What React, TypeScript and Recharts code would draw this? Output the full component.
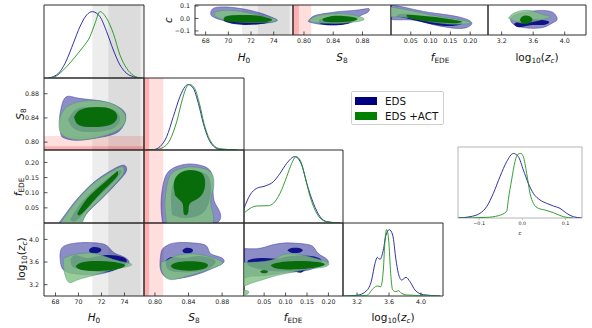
import React from 'react';
import { ScatterChart, Scatter, XAxis, YAxis, ReferenceArea } from 'recharts';

type XY = [number, number];

// ---------- axis ranges and ticks ----------
const h0Dom: [number, number] = [67, 75.7];
const s8Dom: [number, number] = [0.787, 0.906];
const fDomX: [number, number] = [0.003, 0.234];
const fDomY: [number, number] = [0, 0.241];
const zDomX: [number, number] = [3.025, 4.275];
const zDomY: [number, number] = [3.0, 4.29];
const pDom: [number, number] = [0, 1.1];
const cDomTop: [number, number] = [-0.133, 0.108];
const h0DomTop: [number, number] = [67.06, 75.7];
const s8DomTop: [number, number] = [0.785, 0.919];
const fDomTop: [number, number] = [0, 0.245];
const zDomTop: [number, number] = [3.027, 4.27];
const cDom1D: [number, number] = [-0.149, 0.138];

const h0Ticks = [68, 70, 72, 74];
const s8Ticks = [0.8, 0.84, 0.88];
const fTicks = [0.05, 0.1, 0.15, 0.2];
const zTicks = [3.2, 3.6, 4.0];
const cTicks = [-0.1, 0.0, 0.1];

// external priors (H0 and S8 bands), 2 sigma / 1 sigma
const h0Band2: XY = [71.2, 76.8];
const h0Band1: XY = [72.6, 75.4];
const s8Band2: XY = [0.742, 0.81];
const s8Band1: XY = [0.759, 0.793];

// ---------- 1D marginals ----------
const h0EDS: XY[] = [[67.4, 0], [67.81, 0.02], [68.39, 0.095], [68.97, 0.271], [69.55, 0.523], [70.13, 0.774], [70.71, 0.95], [71.2, 1.0], [71.87, 0.924], [72.45, 0.698], [73.03, 0.422], [73.61, 0.196], [74.19, 0.07], [74.77, 0.02], [75.4, 0]];
const h0ACT: XY[] = [[67.5, 0], [67.96, 0.02], [68.97, 0.171], [69.84, 0.346], [70.42, 0.472], [71.0, 0.623], [71.44, 0.824], [71.87, 1.0], [72.45, 0.899], [73.03, 0.673], [73.61, 0.346], [74.19, 0.146], [74.77, 0.04], [75.4, 0]];
const s8EDS: XY[] = [[0.79, 0], [0.7981, 0.005], [0.806, 0.051], [0.814, 0.204], [0.8219, 0.509], [0.8298, 0.815], [0.8358, 0.968], [0.8398, 1.0], [0.8457, 0.942], [0.8517, 0.713], [0.8576, 0.407], [0.8636, 0.178], [0.8695, 0.061], [0.8775, 0.01], [0.8974, 0]];
const s8ACT: XY[] = [[0.79, 0], [0.8, 0.004], [0.81, 0.041], [0.8179, 0.153], [0.8259, 0.433], [0.833, 0.789], [0.8378, 0.968], [0.841, 1.0], [0.8465, 0.957], [0.8529, 0.713], [0.8584, 0.407], [0.8636, 0.204], [0.8695, 0.076], [0.8775, 0.02], [0.8974, 0]];
const fEDS: XY[] = [[0.003, 0.221], [0.017, 0.422], [0.0326, 0.522], [0.0521, 0.557], [0.0715, 0.622], [0.0871, 0.748], [0.1027, 0.899], [0.1214, 1.0], [0.1377, 0.874], [0.1494, 0.598], [0.165, 0.296], [0.1805, 0.095], [0.1961, 0.02], [0.2272, 0]];
const fACT: XY[] = [[0.003, 0.146], [0.017, 0.221], [0.0326, 0.256], [0.0599, 0.261], [0.0715, 0.296], [0.0871, 0.447], [0.1027, 0.698], [0.1144, 0.899], [0.1245, 1.0], [0.1338, 0.95], [0.1455, 0.698], [0.1572, 0.397], [0.1727, 0.146], [0.1883, 0.035], [0.2039, 0.01], [0.2272, 0]];
const zEDS: XY[] = [[3.04, 0], [3.196, 0.01], [3.321, 0.08], [3.383, 0.241], [3.425, 0.492], [3.454, 0.582], [3.4875, 0.552], [3.529, 0.693], [3.5625, 0.919], [3.604, 1.0], [3.646, 0.919], [3.6875, 0.542], [3.717, 0.341], [3.758, 0.241], [3.8125, 0.281], [3.8625, 0.216], [3.925, 0.09], [4.029, 0.02], [4.24, 0]];
const zACT: XY[] = [[3.04, 0], [3.321, 0.01], [3.404, 0.115], [3.454, 0.151], [3.496, 0.141], [3.529, 0.392], [3.55, 0.843], [3.571, 1.0], [3.596, 0.843], [3.621, 0.341], [3.646, 0.09], [3.6875, 0.065], [3.717, 0.08], [3.758, 0.04], [3.821, 0.015], [4.24, 0]];
const cEDS: XY[] = [[-0.148, 0], [-0.1212, 0.02], [-0.0981, 0.072], [-0.0826, 0.176], [-0.0672, 0.382], [-0.0518, 0.641], [-0.0363, 0.873], [-0.0209, 1.0], [-0.0094, 0.951], [0.0022, 0.744], [0.0138, 0.537], [0.0254, 0.382], [0.0408, 0.279], [0.0563, 0.227], [0.0717, 0.186], [0.0871, 0.15], [0.1026, 0.072], [0.118, 0.02], [0.1373, 0]];
const cACT: XY[] = [[-0.148, 0], [-0.0826, 0.01], [-0.0557, 0.036], [-0.0363, 0.103], [-0.0325, 0.284], [-0.0248, 0.594], [-0.0171, 0.873], [-0.0094, 0.992], [-0.004, 1.0], [0.0022, 0.951], [0.01, 0.692], [0.0177, 0.382], [0.0254, 0.227], [0.037, 0.15], [0.0524, 0.124], [0.0717, 0.083], [0.0948, 0.02], [0.118, 0]];

// ---------- 2D contours (outer = 95%, inner = 68%) ----------
// S8 vs H0
const s8H0EdsOut: XY[] = [[68.36, 0.8426], [68.6, 0.8647], [69.03, 0.8757], [69.9, 0.873], [71.35, 0.8696], [72.8, 0.864], [73.82, 0.8537], [74.11, 0.84], [73.53, 0.818], [71.93, 0.808], [69.9, 0.803], [68.74, 0.807], [68.45, 0.815]];
const s8H0ActOut: XY[] = [[68.31, 0.8344], [68.74, 0.8537], [69.9, 0.866], [71.64, 0.8685], [73.09, 0.862], [74.05, 0.8454], [73.82, 0.826], [72.51, 0.8123], [70.48, 0.804], [69.03, 0.807], [68.39, 0.8178]];
const s8H0EdsIn: XY[] = [[69.09, 0.8371], [69.76, 0.8537], [71.06, 0.858], [72.8, 0.8553], [73.61, 0.841], [73.09, 0.8234], [71.35, 0.8167], [69.76, 0.8206]];
const s8H0ActIn: XY[] = [[69.61, 0.841], [70.19, 0.8537], [71.64, 0.858], [72.95, 0.8537], [73.38, 0.841], [72.8, 0.8289], [71.35, 0.825], [70.05, 0.8278]];
// fEDE vs H0
const fH0EdsOut: XY[] = [[68.1, -0.01], [69.03, 0.038], [69.9, 0.08], [71.35, 0.135], [72.8, 0.1726], [73.73, 0.19], [74.14, 0.186], [74.08, 0.165], [73.24, 0.128], [71.93, 0.0766], [70.63, 0.027], [69.9, -0.01]];
const fH0ActOut: XY[] = [[68.25, -0.01], [69.18, 0.04], [70.05, 0.082], [71.35, 0.132], [72.8, 0.168], [73.73, 0.186], [73.96, 0.179], [73.85, 0.159], [72.95, 0.12], [71.79, 0.0735], [70.63, 0.027], [70.05, -0.01]];
const fH0EdsIn: XY[] = [[69.26, 0.0103], [70.19, 0.0655], [71.64, 0.12], [72.95, 0.159], [73.61, 0.175], [73.61, 0.159], [72.66, 0.12], [71.35, 0.071], [70.19, 0.021], [69.61, 0.005]];
const fH0ActIn: XY[] = [[69.9, 0.0324], [70.77, 0.082], [72.08, 0.128], [73.24, 0.167], [73.44, 0.166], [73.24, 0.148], [71.93, 0.0985], [70.63, 0.0435], [70.05, 0.025]];
// fEDE vs S8
const fS8EdsOut: XY[] = [[0.8096, -0.01], [0.8072, 0.059], [0.8096, 0.125], [0.8156, 0.168], [0.8275, 0.188], [0.8418, 0.195], [0.8572, 0.188], [0.8668, 0.168], [0.8691, 0.125], [0.8703, 0.075], [0.8763, 0.042], [0.8763, 0.006], [0.8537, -0.01]];
const fS8ActOut: XY[] = [[0.8144, -0.01], [0.812, 0.059], [0.8144, 0.125], [0.8203, 0.165], [0.8322, 0.181], [0.8441, 0.185], [0.8596, 0.178], [0.8691, 0.155], [0.8691, 0.109], [0.8668, 0.059], [0.8656, -0.01]];
const fS8EdsIn: XY[] = [[0.8203, 0.026], [0.8191, 0.092], [0.8239, 0.142], [0.8358, 0.168], [0.8513, 0.171], [0.8632, 0.155], [0.8668, 0.109], [0.8632, 0.059], [0.8537, 0.026], [0.8358, 0.016]];
const fS8ActIn: XY[] = [[0.8239, 0.092], [0.8227, 0.135], [0.8298, 0.165], [0.8418, 0.175], [0.8537, 0.168], [0.8596, 0.142], [0.8572, 0.099], [0.8477, 0.075], [0.8406, 0.059], [0.8394, 0.032], [0.8346, 0.029], [0.8334, 0.059], [0.8298, 0.075]];
// log10(zc) vs H0
const zH0EdsOut: XY[] = [[68.39, 3.719], [68.51, 3.837], [69.03, 3.907], [70.19, 3.943], [71.64, 3.937], [72.51, 3.884], [73.09, 3.766], [73.96, 3.689], [74.4, 3.589], [73.82, 3.513], [72.8, 3.436], [71.35, 3.377], [69.61, 3.395], [68.6, 3.483]];
const zH0ActOut: XY[] = [[68.68, 3.66], [69.32, 3.719], [70.19, 3.748], [71.35, 3.754], [72.51, 3.683], [73.53, 3.619], [74.6, 3.566], [74.11, 3.513], [72.8, 3.454], [71.35, 3.366], [70.05, 3.295], [69.32, 3.236], [68.97, 3.295], [68.74, 3.454]];
const zH0EdsInA: XY[] = [[70.92, 3.813], [71.21, 3.86], [71.79, 3.854], [71.99, 3.807], [71.64, 3.76], [71.06, 3.766]];
const zH0EdsInB: XY[] = [[69.32, 3.648], [69.76, 3.725], [70.77, 3.672], [72.22, 3.719], [73.82, 3.689], [74.19, 3.601], [73.67, 3.513], [72.51, 3.424], [71.35, 3.436], [69.9, 3.483], [69.38, 3.554]];
const zH0ActIn: XY[] = [[69.76, 3.53], [70.34, 3.595], [71.64, 3.619], [73.09, 3.601], [74.05, 3.542], [73.24, 3.471], [71.64, 3.442], [70.19, 3.466]];
// log10(zc) vs S8
const zS8EdsOut: XY[] = [[0.8068, 3.719], [0.8088, 3.825], [0.8148, 3.895], [0.8267, 3.943], [0.8505, 3.931], [0.8624, 3.866], [0.8664, 3.748], [0.8783, 3.683], [0.8822, 3.601], [0.8743, 3.53], [0.8584, 3.424], [0.8386, 3.336], [0.8187, 3.307], [0.8088, 3.395], [0.806, 3.542]];
const zS8ActOut: XY[] = [[0.8076, 3.601], [0.8156, 3.642], [0.8267, 3.719], [0.8426, 3.748], [0.8584, 3.719], [0.8743, 3.648], [0.8803, 3.572], [0.8703, 3.501], [0.8545, 3.424], [0.8346, 3.336], [0.8187, 3.289], [0.8108, 3.366], [0.8076, 3.483]];
const zS8EdsInA: XY[] = [[0.8326, 3.801], [0.8366, 3.848], [0.8426, 3.842], [0.8453, 3.801], [0.8417, 3.76], [0.8354, 3.76]];
const zS8EdsInB: XY[] = [[0.8128, 3.63], [0.8207, 3.689], [0.8346, 3.672], [0.8505, 3.707], [0.8664, 3.672], [0.8723, 3.601], [0.8644, 3.495], [0.8465, 3.424], [0.8267, 3.424], [0.8148, 3.483]];
const zS8ActIn: XY[] = [[0.8187, 3.53], [0.8247, 3.589], [0.8406, 3.613], [0.8564, 3.595], [0.8632, 3.542], [0.8564, 3.471], [0.8406, 3.448], [0.8247, 3.471]];
// log10(zc) vs fEDE
const zFEdsOut: XY[] = [[-0.01, 3.848], [0.0342, 3.837], [0.0653, 3.895], [0.0965, 3.937], [0.1276, 3.931], [0.1588, 3.895], [0.1704, 3.807], [0.1821, 3.719], [0.1977, 3.642], [0.1961, 3.554], [0.1743, 3.513], [0.151, 3.454], [0.112, 3.424], [0.0809, 3.395], [0.0419, 3.354], [0.0108, 3.336], [-0.01, 3.336]];
const zFActOut: XY[] = [[-0.01, 3.589], [0.0342, 3.601], [0.0731, 3.648], [0.0965, 3.737], [0.1354, 3.731], [0.1666, 3.672], [0.1993, 3.589], [0.19, 3.513], [0.1588, 3.483], [0.1276, 3.436], [0.0809, 3.366], [0.0419, 3.277], [0.0147, 3.212], [-0.01, 3.19]];
const zFActOutB: XY[] = [[-0.01, 3.1], [0.009, 3.095], [0.012, 3.04], [-0.01, 2.98]];
const zFEdsInA: XY[] = [[0.1042, 3.807], [0.1136, 3.848], [0.1315, 3.848], [0.1401, 3.807], [0.1315, 3.766], [0.1136, 3.766]];
const zFEdsInB: XY[] = [[0.0124, 3.63], [0.0419, 3.672], [0.0809, 3.66], [0.112, 3.707], [0.1588, 3.707], [0.1821, 3.648], [0.1805, 3.572], [0.151, 3.483], [0.1354, 3.413], [0.112, 3.436], [0.0731, 3.436], [0.0342, 3.483], [0.0124, 3.542]];
const zFActIn: XY[] = [[0.0653, 3.542], [0.0809, 3.589], [0.1276, 3.619], [0.1743, 3.601], [0.1915, 3.56], [0.1743, 3.507], [0.1276, 3.471], [0.0809, 3.483]];
const zFActInB: XY[] = [[0.0404, 3.43], [0.0497, 3.46], [0.0591, 3.43], [0.0497, 3.401]];
// c vs H0
const cH0EdsOut: XY[] = [[68.44, 0.043], [68.74, 0.0837], [69.91, 0.0918], [71.37, 0.0755], [72.84, 0.043], [74.02, 0.0023], [74.31, -0.0166], [73.72, -0.0329], [72.25, -0.0437], [70.49, -0.0329], [69.32, -0.0112], [68.59, 0.0159]];
const cH0ActOut: XY[] = [[68.79, 0.0484], [69.61, 0.0647], [71.08, 0.0565], [72.55, 0.0295], [73.87, 0.0023], [74.25, -0.0112], [73.87, -0.0275], [72.25, -0.0329], [70.49, -0.0248], [69.47, -0.0058], [68.88, 0.0159]];
const cH0EdsIn: XY[] = [[69.61, 0.0159], [70.79, 0.0295], [72.84, 0.0105], [73.72, -0.0112], [73.28, -0.0383], [71.37, -0.0519], [69.91, -0.0329], [69.56, -0.0112]];
const cH0ActIn: XY[] = [[69.61, 0.0023], [70.2, 0.024], [71.96, 0.0267], [73.28, 0.0105], [73.87, -0.0112], [73.14, -0.0302], [71.37, -0.0329], [69.91, -0.0248]];
// c vs S8
const cS8EdsOut: XY[] = [[0.8068, -0.0166], [0.8141, 0.0213], [0.8323, 0.043], [0.8505, 0.0565], [0.8687, 0.0647], [0.8823, 0.0755], [0.8891, 0.078], [0.8869, 0.0484], [0.8755, 0.0159], [0.8641, -0.0329], [0.8414, -0.0519], [0.8187, -0.0437], [0.8068, -0.0275]];
const cS8ActOut: XY[] = [[0.8068, -0.0112], [0.8187, 0.0213], [0.8368, 0.0376], [0.8596, 0.0349], [0.8755, 0.0159], [0.8823, -0.0058], [0.8732, -0.0248], [0.8505, -0.0383], [0.8277, -0.0383], [0.8114, -0.0302]];
const cS8EdsIn: XY[] = [[0.8209, -0.0112], [0.8323, 0.0105], [0.8505, 0.0159], [0.8641, -0.0058], [0.8618, -0.0383], [0.8414, -0.0546], [0.8232, -0.0437]];
const cS8ActIn: XY[] = [[0.8255, -0.0031], [0.8414, 0.0213], [0.8618, 0.0159], [0.8732, -0.0031], [0.8641, -0.0248], [0.8414, -0.0302], [0.8277, -0.0248]];
// c vs fEDE
const cFEdsOut: XY[] = [[-0.01, 0.112], [0.0312, 0.0918], [0.0819, 0.0565], [0.141, 0.0295], [0.183, 0.0023], [0.2042, -0.0383], [0.183, -0.0789], [0.141, -0.0708], [0.0987, -0.0437], [0.048, -0.0112], [-0.01, 0.0]];
const cFActOut: XY[] = [[-0.01, 0.0972], [0.048, 0.0647], [0.0987, 0.0295], [0.1494, 0.0023], [0.1958, -0.0248], [0.1916, -0.0437], [0.141, -0.0437], [0.0819, -0.0166], [0.0312, 0.0105], [-0.01, 0.0213]];
const cFEdsIn: XY[] = [[0.0144, 0.0159], [0.0312, 0.0376], [0.0987, 0.0105], [0.1662, -0.0248], [0.1789, -0.0437], [0.1494, -0.06], [0.0987, -0.0437], [0.048, -0.0058]];
const cFActIn: XY[] = [[0.0397, 0.0295], [0.0987, 0.0159], [0.1494, -0.0058], [0.1789, -0.0248], [0.1578, -0.0383], [0.0987, -0.0248], [0.048, 0.0023]];
// c vs log10(zc)
const cZEdsOut: XY[] = [[3.313, -0.0112], [3.334, 0.0159], [3.439, 0.043], [3.566, 0.0565], [3.692, 0.0647], [3.819, 0.0565], [3.882, 0.0295], [3.903, -0.0112], [3.84, -0.0383], [3.734, -0.0708], [3.566, -0.0789], [3.418, -0.0654], [3.334, -0.0383]];
const cZActOut: XY[] = [[3.287, 0.0023], [3.355, 0.043], [3.482, 0.0647], [3.608, 0.0565], [3.734, 0.0295], [3.819, 0.0159], [3.734, -0.0058], [3.608, -0.0248], [3.482, -0.0383], [3.376, -0.0248]];
const cZEdsIn: XY[] = [[3.355, -0.0437], [3.482, -0.0058], [3.65, -0.0058], [3.798, -0.0248], [3.734, -0.0519], [3.566, -0.0546], [3.418, -0.0708]];
const cZActIn: XY[] = [[3.431, -0.0112], [3.46, 0.0159], [3.515, 0.024], [3.574, 0.0105], [3.587, -0.0166], [3.524, -0.0437], [3.46, -0.0383]];

// ---------- styling ----------
const FONT = "'DejaVu Sans', sans-serif";
const NAVY = '#000080';
const GREEN = '#008000';

interface Fill { pts: XY[]; color: string; op: number; edge?: string }
interface Curve { pts: XY[]; color: string }
interface Band { axis: 'x' | 'y'; r: XY; color: string; op: number }

const edsOut = (pts: XY[]): Fill => ({ pts, color: NAVY, op: 0.45, edge: '#3b3ba0' });
const edsIn = (pts: XY[]): Fill => ({ pts, color: NAVY, op: 0.88 });
const actOut = (pts: XY[]): Fill => ({ pts, color: '#80c280', op: 0.8, edge: '#4a8f80' });
const actIn = (pts: XY[]): Fill => ({ pts, color: '#006800', op: 0.92 });
const edsLine = (pts: XY[]): Curve => ({ pts, color: '#1c1c9c' });
const actLine = (pts: XY[]): Curve => ({ pts, color: '#1f921f' });

const grayX: Band[] = [
  { axis: 'x', r: h0Band2, color: '#000', op: 0.07 },
  { axis: 'x', r: h0Band1, color: '#000', op: 0.07 },
];
const redX: Band[] = [
  { axis: 'x', r: s8Band2, color: '#ff0000', op: 0.13 },
  { axis: 'x', r: s8Band1, color: '#ff0000', op: 0.2 },
];
const redY: Band[] = [
  { axis: 'y', r: s8Band2, color: '#ff0000', op: 0.13 },
  { axis: 'y', r: s8Band1, color: '#ff0000', op: 0.2 },
];

const fmt0 = (v: number) => String(v);
const fmt2 = (v: number) => v.toFixed(2);
const fmt1 = (v: number) => (v < 0 ? '\u2212' : '') + Math.abs(v).toFixed(1);

const Nothing = () => <g />;

// closed outline: repeat the first vertex so the spline returns to its start
const closed = (pts: XY[]) => [...pts, pts[0]].map(([px, py]) => ({ x: px, y: py }));

interface PanelProps {
  x: number; y: number; w: number; h: number;
  xDom: [number, number]; yDom: [number, number];
  xTicks?: number[]; yTicks?: number[];
  xLab?: boolean; yLab?: boolean;
  xFmt?: (v: number) => string; yFmt?: (v: number) => string;
  sides?: boolean;
  fills?: Fill[]; curves?: Curve[]; bands?: Band[];
  frame?: string; font?: number; outward?: boolean;
}

function Panel({ x, y, w, h, xDom, yDom, xTicks, yTicks, xLab, yLab, xFmt, yFmt, sides = true, fills = [], curves = [], bands = [], frame = '#2a2a2a', font = 6.3, outward = false }: PanelProps) {
  const M = 28;
  const ts = outward ? 2 : -3.5;
  const tmX = outward ? 1.5 : 7.5;
  const tmY = 8.5;
  const tickText = { fontSize: font, fill: '#222', fontFamily: FONT };
  const tl = { stroke: frame, strokeWidth: 0.8 };
  const al = { stroke: frame, strokeWidth: 1 };
  return (
    <div style={{ position: 'absolute', left: x - M - 1, top: y - M - 1 }}>
      <ScatterChart width={w + 2 * M + 2} height={h + 2 * M + 2} margin={{ top: M, right: M, bottom: M, left: M }}>
        <XAxis xAxisId="b" type="number" dataKey="x" domain={xDom} allowDataOverflow orientation="bottom" height={1}
          ticks={xTicks} interval={0} tickSize={ts} tickMargin={tmX} tick={xLab ? tickText : false}
          tickFormatter={xFmt} tickLine={xTicks ? tl : false} axisLine={al} />
        <XAxis xAxisId="t" type="number" dataKey="x" domain={xDom} allowDataOverflow orientation="top" height={1}
          ticks={xTicks} interval={0} tickSize={ts} tick={false} tickLine={sides && xTicks ? tl : false} axisLine={al} />
        <YAxis yAxisId="l" type="number" dataKey="y" domain={yDom} allowDataOverflow orientation="left" width={1}
          ticks={yTicks} interval={0} tickSize={ts} tickMargin={tmY} tick={yLab ? tickText : false}
          tickFormatter={yFmt} tickLine={yTicks ? tl : false} axisLine={al} />
        <YAxis yAxisId="r" type="number" dataKey="y" domain={yDom} allowDataOverflow orientation="right" width={1}
          ticks={yTicks} interval={0} tickSize={ts} tick={false} tickLine={sides && yTicks ? tl : false} axisLine={al} />
        {fills.map((f, i) => (
          <Scatter key={'f' + i} xAxisId="b" yAxisId="l" data={closed(f.pts)}
            shape={Nothing} line={{ fill: f.color, fillOpacity: f.op, stroke: f.edge ?? 'none', strokeWidth: 0.5 }}
            lineType="joint" lineJointType="natural" isAnimationActive={false} />
        ))}
        {curves.map((c, i) => (
          <Scatter key={'c' + i} xAxisId="b" yAxisId="l" data={c.pts.map(([px, py]) => ({ x: px, y: py }))}
            shape={Nothing} line={{ fill: 'none', stroke: c.color, strokeWidth: 0.9 }}
            lineType="joint" lineJointType="monotoneX" isAnimationActive={false} />
        ))}
        {bands.map((b, i) =>
          b.axis === 'x' ? (
            <ReferenceArea key={'b' + i} xAxisId="b" yAxisId="l" x1={b.r[0]} x2={b.r[1]} fill={b.color} fillOpacity={b.op} stroke="none" ifOverflow="hidden" />
          ) : (
            <ReferenceArea key={'b' + i} xAxisId="b" yAxisId="l" y1={b.r[0]} y2={b.r[1]} fill={b.color} fillOpacity={b.op} stroke="none" ifOverflow="hidden" />
          )
        )}
      </ScatterChart>
    </div>
  );
}

const sub: React.CSSProperties = { fontSize: '0.7em', position: 'relative', top: '0.3em' };
const H0T = <><i>H</i><span style={sub}>0</span></>;
const S8T = <><i>S</i><span style={sub}>8</span></>;
const FT = <><i>f</i><span style={sub}>EDE</span></>;
const ZT = <>log<span style={sub}>10</span>(<i>z</i><span style={{ ...sub, fontStyle: 'italic' }}>c</span>)</>;

function Title({ x, y, rot, size = 10.5, children }: { x: number; y: number; rot?: boolean; size?: number; children: React.ReactNode }) {
  return (
    <div style={{ position: 'absolute', left: x, top: y, transform: `translate(-50%, -50%)${rot ? ' rotate(-90deg)' : ''}`, fontFamily: FONT, fontSize: size, lineHeight: 1, whiteSpace: 'nowrap', color: '#111' }}>
      {children}
    </div>
  );
}

function Legend() {
  const row = (color: string, label: string, top: number) => (
    <div style={{ position: 'absolute', left: 3, top, display: 'flex', alignItems: 'center' }}>
      <div style={{ width: 22, height: 8, background: color }} />
      <span style={{ marginLeft: 8, fontSize: 10.3, fontFamily: FONT, color: '#111', lineHeight: 1 }}>{label}</span>
    </div>
  );
  return (
    <div style={{ position: 'absolute', left: 351, top: 91, width: 91, height: 32, border: '1px solid #d0d0d0', borderRadius: 2, background: '#fff' }}>
      {row(NAVY, 'EDS', 3.5)}
      {row(GREEN, 'EDS +ACT', 19)}
    </div>
  );
}

export default function App() {
  return (
    <div style={{ position: 'absolute', left: 0, top: 0, width: 592, height: 328, background: '#fff', fontFamily: FONT, overflow: 'hidden' }}>
      {/* triangle: column H0 */}
      <Panel x={44} y={5} w={100} h={73} xDom={h0Dom} yDom={pDom} xTicks={h0Ticks} sides={false}
        curves={[edsLine(h0EDS), actLine(h0ACT)]} bands={grayX} />
      <Panel x={44} y={78} w={100} h={72} xDom={h0Dom} yDom={s8Dom} xTicks={h0Ticks} yTicks={s8Ticks} yLab yFmt={fmt2}
        fills={[edsOut(s8H0EdsOut), edsIn(s8H0EdsIn), actOut(s8H0ActOut), actIn(s8H0ActIn)]} bands={[...grayX, ...redY]} />
      <Panel x={44} y={150} w={100} h={73} xDom={h0Dom} yDom={fDomY} xTicks={h0Ticks} yTicks={fTicks} yLab yFmt={fmt2}
        fills={[edsOut(fH0EdsOut), edsIn(fH0EdsIn), actOut(fH0ActOut), actIn(fH0ActIn)]} bands={grayX} />
      <Panel x={44} y={223} w={100} h={73} xDom={h0Dom} yDom={zDomY} xTicks={h0Ticks} yTicks={zTicks} xLab yLab xFmt={fmt0} yFmt={fmt1}
        fills={[edsOut(zH0EdsOut), edsIn(zH0EdsInA), edsIn(zH0EdsInB), actOut(zH0ActOut), actIn(zH0ActIn)]} bands={grayX} />
      {/* column S8 */}
      <Panel x={144} y={78} w={100} h={72} xDom={s8Dom} yDom={pDom} xTicks={s8Ticks} sides={false}
        curves={[edsLine(s8EDS), actLine(s8ACT)]} bands={redX} />
      <Panel x={144} y={150} w={100} h={73} xDom={s8Dom} yDom={fDomY} xTicks={s8Ticks} yTicks={fTicks}
        fills={[edsOut(fS8EdsOut), edsIn(fS8EdsIn), actOut(fS8ActOut), actIn(fS8ActIn)]} bands={redX} />
      <Panel x={144} y={223} w={100} h={73} xDom={s8Dom} yDom={zDomY} xTicks={s8Ticks} yTicks={zTicks} xLab xFmt={fmt2}
        fills={[edsOut(zS8EdsOut), edsIn(zS8EdsInA), edsIn(zS8EdsInB), actOut(zS8ActOut), actIn(zS8ActIn)]} bands={redX} />
      {/* column fEDE */}
      <Panel x={244} y={150} w={99} h={73} xDom={fDomX} yDom={pDom} xTicks={fTicks} sides={false}
        curves={[edsLine(fEDS), actLine(fACT)]} />
      <Panel x={244} y={223} w={99} h={73} xDom={fDomX} yDom={zDomY} xTicks={fTicks} yTicks={zTicks} xLab xFmt={fmt2}
        fills={[edsOut(zFEdsOut), edsIn(zFEdsInA), edsIn(zFEdsInB), actOut(zFActOut), actOut(zFActOutB), actIn(zFActIn), actIn(zFActInB)]} />
      {/* column log10(zc) */}
      <Panel x={343} y={223} w={100} h={73} xDom={zDomX} yDom={pDom} xTicks={zTicks} xLab xFmt={fmt1} sides={false}
        curves={[edsLine(zEDS), actLine(zACT)]} />

      {/* top row: c against each parameter */}
      <Panel x={195} y={5} w={98} h={30} xDom={h0DomTop} yDom={cDomTop} xTicks={h0Ticks} yTicks={cTicks} xLab yLab xFmt={fmt0} yFmt={fmt1}
        fills={[edsOut(cH0EdsOut), edsIn(cH0EdsIn), actOut(cH0ActOut), actIn(cH0ActIn)]} bands={grayX} />
      <Panel x={293} y={5} w={98} h={30} xDom={s8DomTop} yDom={cDomTop} xTicks={s8Ticks} yTicks={cTicks} xLab xFmt={fmt2}
        fills={[edsOut(cS8EdsOut), edsIn(cS8EdsIn), actOut(cS8ActOut), actIn(cS8ActIn)]} bands={redX} />
      <Panel x={391} y={5} w={97} h={30} xDom={fDomTop} yDom={cDomTop} xTicks={fTicks} yTicks={cTicks} xLab xFmt={fmt2}
        fills={[edsOut(cFEdsOut), edsIn(cFEdsIn), actOut(cFActOut), actIn(cFActIn)]} />
      <Panel x={488} y={5} w={98} h={30} xDom={zDomTop} yDom={cDomTop} xTicks={zTicks} yTicks={cTicks} xLab xFmt={fmt1}
        fills={[edsOut(cZEdsOut), edsIn(cZEdsIn), actOut(cZActOut), actIn(cZActIn)]} />

      {/* 1D c */}
      <Panel x={458} y={147} w={124} h={71} xDom={cDom1D} yDom={pDom} xTicks={cTicks} xLab xFmt={fmt1} sides={false}
        frame="#b4b4b4" font={4.8} outward curves={[edsLine(cEDS), actLine(cACT)]} />

      {/* axis titles */}
      <Title x={94} y={317}>{H0T}</Title>
      <Title x={194} y={317}>{S8T}</Title>
      <Title x={293} y={317}>{FT}</Title>
      <Title x={393} y={317}>{ZT}</Title>
      <Title x={244} y={57}>{H0T}</Title>
      <Title x={342} y={57}>{S8T}</Title>
      <Title x={440} y={57}>{FT}</Title>
      <Title x={537} y={57}>{ZT}</Title>
      <Title x={20} y={114} rot>{S8T}</Title>
      <Title x={18} y={187} rot>{FT}</Title>
      <Title x={21} y={259} rot>{ZT}</Title>
      <Title x={168} y={20} rot><i>c</i></Title>
      <Title x={520} y={234} size={5.5}><i>c</i></Title>

      <Legend />
    </div>
  );
}
